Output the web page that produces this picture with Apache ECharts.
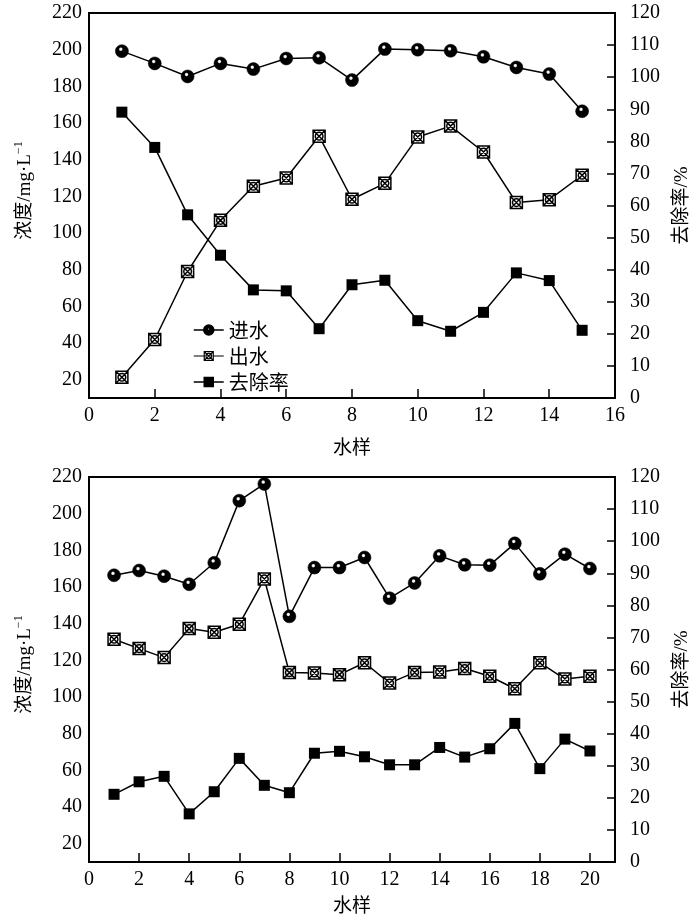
<!DOCTYPE html>
<html>
<head>
<meta charset="utf-8">
<script src="https://cdn.jsdelivr.net/npm/echarts@6/dist/echarts.min.js"></script>
<style>
html,body{margin:0;padding:0;background:#fff;}
#chart{width:700px;height:920px;}
</style>
</head>
<body>
<div id="chart"></div>
<script>
// ---- data ----
const topSamples = [1,2,3,4,5,6,7,8,9,10,11,12,13,14,15];
const topInflow  = [199.2,192.5,185.4,192.5,189.4,195.2,195.6,183.4,200.3,200.0,199.4,196.1,190.3,186.7,166.4];
const topOutflow = [21.3,41.9,79.0,106.9,125.5,130.0,152.8,118.4,127.1,152.4,158.3,144.2,116.6,118.2,131.5];
const topRemoval = [89.1,78.1,57.1,44.5,33.7,33.4,21.6,35.3,36.7,24.1,20.8,26.7,39.0,36.6,21.1];

const bottomSamples = [1,2,3,4,5,6,7,8,9,10,11,12,13,14,15,16,17,18,19,20];
const bottomInflow  = [166.4,169.0,165.9,161.5,173.2,207.1,216.2,144.0,170.6,170.6,176.1,153.9,162.2,177.0,172.1,171.9,183.8,167.2,177.9,170.1];
const bottomOutflow = [131.5,126.4,121.5,137.3,135.3,139.7,164.4,113.3,113.1,112.2,118.7,107.6,113.4,113.6,115.5,111.3,104.5,118.7,109.8,111.3];
const bottomRemoval = [21.1,25.0,26.7,15.0,21.9,32.3,23.9,21.6,33.9,34.5,32.8,30.3,30.3,35.7,32.7,35.3,43.2,29.1,38.3,34.6];

const seriesNames = ['进水','出水','去除率'];
const xName = '水样';
const yLeftName = '浓度/mg·L{sup|−1}';
const yRightName = '去除率/%';

// ---- styles ----
const serif = "'Liberation Serif', 'Noto Sans CJK SC', serif";
const ballColor = {
  type:'radial', x:0.42, y:0.36, r:0.62,
  colorStops:[{offset:0,color:'#ffffff'},{offset:0.13,color:'#eeeeee'},{offset:0.26,color:'#000'},{offset:1,color:'#000'}]
};
const crossSym = 'path://M0,0H10V10H0Z M8.2,5A3.2,3.2 0 1 1 1.8,5A3.2,3.2 0 1 1 8.2,5Z M0,0L10,10 M10,0L0,10';

// legend icons: line + marker in a 30x10 box
const inflowIcon  = 'path://M0,5H10 M20,5H30 M20,5A5,5 0 1 1 10,5A5,5 0 1 1 20,5Z M13.6,4A1.3,1.3 0 1 0 16.2,4A1.3,1.3 0 1 0 13.6,4Z';
const outflowIcon = 'path://M0,5H10.5 M19.5,5H30 M10.5,0.5H19.5V9.5H10.5Z M17.8,5A2.8,2.8 0 1 1 12.2,5A2.8,2.8 0 1 1 17.8,5Z M10.5,0.5L19.5,9.5 M19.5,0.5L10.5,9.5';
const removalIcon = 'path://M0,5H30 M10.5,0.5H19.5V9.5H10.5Z';

const inflowItem  = {color:ballColor, borderColor:'#000', borderWidth:0.5};
const outflowItem = {color:'#fff', borderColor:'#000', borderWidth:1.5};
const removalItem = {color:'#000', borderWidth:0};

function pairs(xs, ys){ return xs.map((x,i)=>[x, ys[i]]); }

function makeX(gridIndex, max, gap){
  return {
    type:'value', gridIndex, min:0, max, interval:2,
    name:xName, nameLocation:'middle', nameGap:gap,
    nameTextStyle:{fontFamily:"'Noto Sans CJK SC', sans-serif", fontSize:19, color:'#000'},
    axisLine:{show:true, onZero:false, lineStyle:{color:'#000', width:2}},
    axisTick:{show:true, inside:true, length:9, lineStyle:{color:'#000', width:1.5}},
    axisLabel:{color:'#000', fontFamily:serif, fontSize:20, margin:8,
      formatter:v => (v>20 ? '' : String(v))},
    splitLine:{show:false}
  };
}
function makeYL(gridIndex, pad){
  return {
    type:'value', gridIndex, position:'left', min:10, max:220, interval:10,
    name:yLeftName, nameLocation:'middle', nameGap:52,
    nameTextStyle:{fontFamily:serif, fontSize:19, color:'#000', padding:pad,
      rich:{sup:{fontFamily:serif, fontSize:12, color:'#000', verticalAlign:'top', padding:[0,0,12,0]}}},
    axisLine:{show:true, onZero:false, lineStyle:{color:'#000', width:2}},
    axisTick:{show:false},
    axisLabel:{color:'#000', fontFamily:serif, fontSize:20, margin:7,
      formatter:v => (Math.round(v)%20===0 ? String(Math.round(v)) : '')},
    splitLine:{show:false}
  };
}
function makeYR(gridIndex){
  return {
    type:'value', gridIndex, position:'right', min:0, max:120, interval:10,
    name:yRightName, nameLocation:'middle', nameGap:58,
    nameTextStyle:{fontFamily:serif, fontSize:19, color:'#000'},
    axisLine:{show:true, onZero:false, lineStyle:{color:'#000', width:2}},
    axisTick:{show:true, inside:true, length:8, lineStyle:{color:'#000', width:1.5}},
    axisLabel:{color:'#000', fontFamily:serif, fontSize:20, margin:15, align:'left'},
    splitLine:{show:false}
  };
}
function inflowSeries(xi, yi, data){
  return {name:seriesNames[0], type:'line', xAxisIndex:xi, yAxisIndex:yi, data,
    symbol:'circle', symbolSize:13, itemStyle:inflowItem,
    lineStyle:{color:'#000', width:1.5}, z:3};
}
function outflowSeries(xi, yi, data){
  return {name:seriesNames[1], type:'line', xAxisIndex:xi, yAxisIndex:yi, data,
    symbol:crossSym, symbolSize:12, itemStyle:outflowItem,
    lineStyle:{color:'#000', width:1.5}, z:3};
}
function removalSeries(xi, yi, data){
  return {name:seriesNames[2], type:'line', xAxisIndex:xi, yAxisIndex:yi, data,
    symbol:'rect', symbolSize:11, itemStyle:removalItem,
    lineStyle:{color:'#000', width:1.5}, z:3};
}

const chart = echarts.init(document.getElementById('chart'), null, {renderer:'canvas'});
chart.setOption({
  animation:false,
  backgroundColor:'#fff',
  grid:[
    {left:89, top:13, width:526, height:385, show:true, borderColor:'#000', borderWidth:2, backgroundColor:'transparent'},
    {left:89, top:477, width:526, height:385, show:true, borderColor:'#000', borderWidth:2, backgroundColor:'transparent'}
  ],
  legend:{
    orient:'vertical', left:188, top:315, itemGap:6, itemWidth:30, itemHeight:10,
    data:[
      {name:seriesNames[0], icon:inflowIcon, itemStyle:{color:'#000', borderColor:'#000', borderWidth:1.5}},
      {name:seriesNames[1], icon:outflowIcon, itemStyle:{color:'#fff', borderColor:'#000', borderWidth:1.2}},
      {name:seriesNames[2], icon:removalIcon, itemStyle:{color:'#000', borderColor:'#000', borderWidth:1.5}}
    ],
    textStyle:{fontFamily:"'Noto Sans CJK SC', sans-serif", fontSize:20, color:'#000', lineHeight:20}
  },
  xAxis:[makeX(0,16,39), makeX(1,21,33)],
  yAxis:[makeYL(0,[0,0,0,30]), makeYR(0), makeYL(1,[0,0,0,10]), makeYR(1)],
  series:[
    inflowSeries(0,0,pairs(topSamples, topInflow)),
    outflowSeries(0,0,pairs(topSamples, topOutflow)),
    removalSeries(0,1,pairs(topSamples, topRemoval)),
    inflowSeries(1,2,pairs(bottomSamples, bottomInflow)),
    outflowSeries(1,2,pairs(bottomSamples, bottomOutflow)),
    removalSeries(1,3,pairs(bottomSamples, bottomRemoval))
  ]
});
</script>
</body>
</html>
